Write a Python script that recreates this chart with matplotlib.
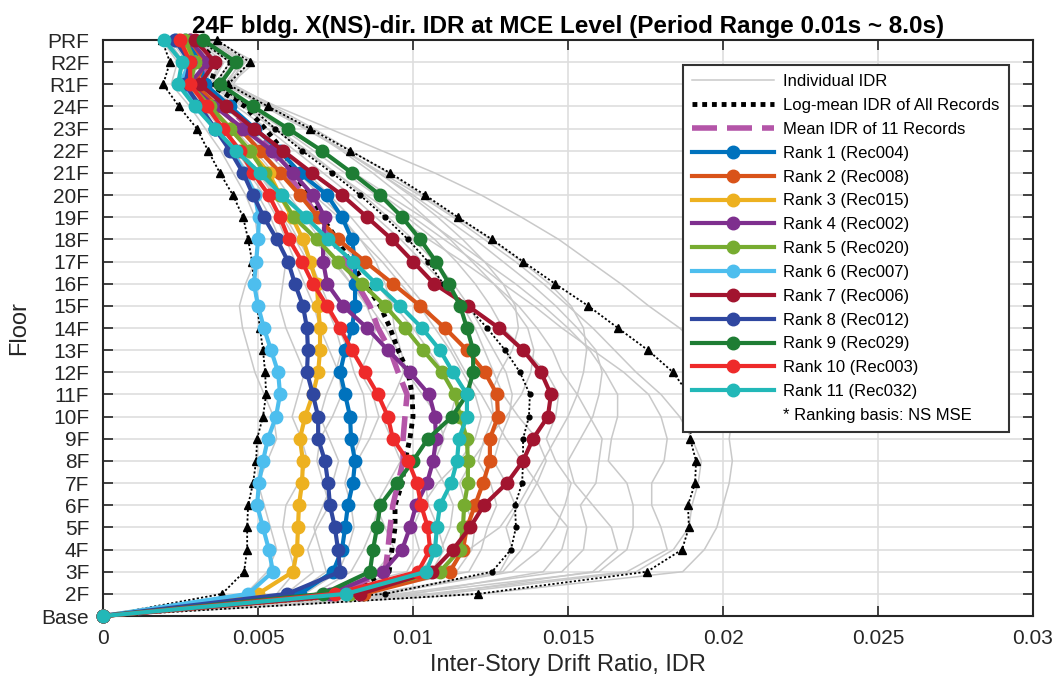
import numpy as np
import matplotlib
matplotlib.use('Agg')
import matplotlib.pyplot as plt
from matplotlib.lines import Line2D

plt.rcParams['font.family'] = ['Liberation Sans', 'DejaVu Sans']

floors = ['Base', '2F', '3F', '4F', '5F', '6F', '7F', '8F', '9F', '10F', '11F', '12F',
          '13F', '14F', '15F', '16F', '17F', '18F', '19F', '20F', '21F', '22F', '23F',
          '24F', 'R1F', 'R2F', 'PRF']
xticks = [0, 0.005, 0.01, 0.015, 0.02, 0.025, 0.03]
xticklabels = ['0', '0.005', '0.01', '0.015', '0.02', '0.025', '0.03']

# IDR values, in per-mille (x 1e-3), Base -> PRF
rank01_rec004 = [0, 6.35, 7.42, 7.71, 7.81, 7.90, 8.06, 8.13, 8.00, 7.97, 7.81, 7.65, 7.81, 8.03,
                 8.13, 8.13, 8.13, 8.03, 7.71, 7.23, 6.35, 5.71, 4.90, 4.10, 3.29, 3.13, 2.65]
rank02_rec008 = [0, 8.42, 11.19, 11.61, 11.74, 12.00, 12.26, 12.48, 12.48, 12.74, 12.71, 12.32, 11.74, 11.03,
                 10.23, 9.35, 8.45, 7.58, 6.94, 6.35, 5.71, 5.06, 4.42, 3.71, 2.97, 3.29, 2.81]
rank03_rec015 = [0, 5.00, 6.13, 6.26, 6.29, 6.32, 6.42, 6.45, 6.35, 6.52, 6.77, 6.94, 7.00, 7.00,
                 6.94, 6.90, 6.68, 6.45, 6.10, 5.71, 5.35, 4.74, 4.10, 3.45, 2.74, 2.97, 2.42]
rank04_rec002 = [0, 7.32, 9.03, 9.65, 9.90, 10.10, 10.45, 10.65, 10.74, 10.71, 10.52, 9.90, 9.19, 8.52,
                 7.74, 7.23, 7.10, 7.10, 7.16, 6.77, 6.13, 5.45, 4.52, 3.61, 2.77, 3.39, 2.81]
rank05_rec020 = [0, 7.97, 10.87, 11.52, 11.61, 11.65, 11.77, 11.77, 11.74, 11.52, 11.35, 10.94, 10.32, 9.74,
                 9.10, 8.35, 7.58, 6.90, 6.16, 5.71, 5.23, 4.74, 4.10, 3.45, 2.81, 2.97, 2.65]
rank06_rec007 = [0, 4.68, 5.48, 5.35, 5.16, 4.97, 5.03, 5.16, 5.32, 5.58, 5.71, 5.65, 5.42, 5.19,
                 5.00, 4.87, 4.94, 5.00, 5.03, 4.90, 4.58, 4.16, 3.61, 3.03, 2.48, 2.81, 2.32]
rank07_rec006 = [0, 8.29, 10.61, 11.29, 11.84, 12.29, 13.03, 13.55, 13.87, 14.35, 14.45, 14.13, 13.55, 12.77,
                 11.77, 10.68, 10.00, 9.32, 8.52, 7.71, 6.74, 5.81, 4.87, 3.97, 3.13, 3.61, 2.97]
rank08_rec012 = [0, 5.94, 7.65, 7.58, 7.48, 7.32, 7.26, 7.16, 6.94, 6.94, 6.77, 6.58, 6.61, 6.58,
                 6.45, 6.19, 5.97, 5.61, 5.19, 4.84, 4.52, 4.10, 3.61, 3.13, 2.65, 2.81, 2.32]
rank09_rec029 = [0, 7.10, 8.61, 8.71, 8.84, 8.94, 9.48, 10.00, 10.48, 11.26, 11.74, 11.94, 11.94, 11.74,
                 11.52, 11.16, 10.74, 10.23, 9.65, 8.94, 8.03, 7.06, 5.97, 4.84, 3.77, 4.29, 3.23]
rank10_rec003 = [0, 7.48, 10.16, 10.55, 10.48, 10.26, 10.13, 9.84, 9.35, 9.19, 8.87, 8.45, 8.03, 7.65,
                 7.23, 6.77, 6.42, 6.00, 5.71, 5.35, 4.84, 4.42, 3.87, 3.35, 2.81, 2.81, 2.48]
rank11_rec032 = [0, 7.84, 10.42, 10.71, 10.77, 10.87, 11.23, 11.42, 11.48, 11.74, 11.74, 11.29, 10.87, 10.29,
                 9.58, 8.81, 8.06, 7.26, 6.55, 5.77, 5.06, 4.29, 3.61, 2.97, 2.42, 2.55, 1.97]

mean_11 = [0, 7.48, 9.10, 9.19, 9.26, 9.35, 9.52, 9.68, 9.68, 9.74, 9.81, 9.52, 9.26, 8.87,
           8.61, 8.19, 7.81, 7.39, 6.94, 6.45, 5.94, 5.45, 4.74, 4.03, 3.23, 3.29, 2.74]
logmean_all = [0, 7.65, 9.23, 9.32, 9.42, 9.42, 9.65, 9.74, 9.90, 10.00, 9.97, 9.84, 9.52, 9.26,
               8.94, 8.45, 7.97, 7.55, 7.06, 6.58, 6.19, 5.81, 5.23, 4.58, 3.45, 3.71, 2.97]
mid_dotted = [0, 9.10, 12.55, 13.16, 13.32, 13.29, 13.52, 13.55, 13.55, 13.74, 13.77, 13.45, 12.97, 12.39,
              11.74, 10.97, 10.48, 9.84, 9.10, 8.29, 7.39, 6.42, 5.55, 4.74, 3.61, 4.10, 3.13]
low_tri = [0, 3.84, 4.55, 4.65, 4.65, 4.68, 4.84, 4.94, 4.97, 5.16, 5.26, 5.23, 5.16, 5.06,
           4.97, 4.87, 4.81, 4.68, 4.52, 4.19, 3.77, 3.39, 3.03, 2.45, 1.94, 2.16, 1.90]
high_tri = [0, 12.10, 17.55, 18.68, 18.90, 18.87, 19.10, 19.13, 18.94, 19.00, 18.90, 18.39, 17.58, 16.61,
            15.65, 14.58, 13.55, 12.55, 11.45, 10.39, 9.26, 7.97, 6.68, 5.32, 4.03, 4.74, 3.68]

grey01 = [0, 12.2, 18.7, 19.4, 19.8, 20.0, 20.2, 20.3, 20.2, 20.3, 20.1, 19.9, 19.4, 18.6,
          17.6, 16.7, 15.7, 14.7, 13.5, 12.2, 10.7, 9.0, 7.3, 5.6, 4.1, 4.9, 3.6]
grey02 = [0, 11.0, 17.2, 18.4, 18.9, 19.0, 19.2, 19.3, 19.0, 18.6, 18.0, 17.2, 16.5, 15.8,
          15.0, 14.2, 13.3, 12.3, 11.3, 10.2, 9.0, 7.8, 6.5, 5.2, 3.9, 4.5, 3.4]
grey03 = [0, 10.5, 16.9, 18.2, 18.0, 17.7, 17.7, 18.1, 18.2, 18.0, 17.6, 16.8, 15.8, 14.8,
          13.9, 12.9, 12.0, 11.0, 10.0, 9.0, 8.0, 7.0, 5.9, 4.8, 3.7, 4.2, 3.1]
grey04 = [0, 9.8, 16.0, 16.9, 17.1, 17.1, 16.9, 16.3, 16.4, 16.6, 16.6, 16.2, 15.7, 15.0,
          14.2, 13.3, 12.3, 11.3, 10.3, 9.2, 8.1, 7.0, 5.9, 4.8, 3.6, 4.1, 3.0]
grey05 = [0, 9.5, 14.8, 15.5, 15.6, 15.4, 15.9, 16.0, 16.1, 15.7, 15.3, 14.8, 14.5, 14.0,
          13.4, 12.6, 11.6, 10.5, 9.5, 8.5, 7.5, 6.6, 5.6, 4.6, 3.5, 3.9, 3.0]
grey06 = [0, 9.0, 13.2, 14.1, 14.6, 14.9, 15.1, 14.6, 14.3, 14.6, 14.7, 14.3, 13.6, 12.9,
          12.5, 12.0, 11.4, 10.7, 9.8, 8.8, 7.8, 6.8, 5.8, 4.7, 3.5, 3.8, 2.9]
grey07 = [0, 8.7, 12.9, 13.5, 13.8, 13.6, 14.0, 14.3, 14.0, 13.4, 12.9, 12.6, 12.3, 12.0,
          11.6, 11.0, 10.3, 9.6, 8.8, 8.0, 7.1, 6.2, 5.3, 4.3, 3.3, 3.6, 2.8]
grey08 = [0, 8.0, 11.8, 12.2, 12.4, 12.7, 12.5, 12.1, 12.3, 12.6, 12.2, 11.7, 11.3, 10.9,
          10.4, 9.8, 9.2, 8.6, 8.0, 7.3, 6.6, 5.8, 4.9, 4.0, 3.1, 3.4, 2.7]
grey09 = [0, 7.6, 10.2, 10.9, 11.2, 11.3, 11.0, 10.6, 10.9, 11.2, 11.4, 11.0, 10.5, 10.0,
          9.4, 8.8, 8.2, 7.6, 7.0, 6.4, 5.8, 5.1, 4.4, 3.7, 2.9, 3.2, 2.5]
grey10 = [0, 7.2, 8.8, 9.4, 9.1, 8.8, 9.2, 9.6, 9.3, 9.0, 9.4, 9.7, 9.5, 9.1,
          8.6, 8.0, 7.5, 7.0, 6.5, 6.0, 5.5, 4.9, 4.2, 3.5, 2.8, 3.0, 2.4]
grey11 = [0, 6.8, 8.0, 8.4, 8.7, 8.9, 8.5, 8.2, 8.6, 8.9, 8.7, 8.3, 8.6, 8.8,
          8.5, 8.0, 7.4, 6.8, 6.2, 5.6, 5.0, 4.4, 3.8, 3.2, 2.6, 2.8, 2.3]
grey12 = [0, 6.2, 7.2, 7.0, 6.8, 7.1, 7.4, 7.6, 7.3, 7.0, 7.2, 7.5, 7.7, 7.5,
          7.2, 6.9, 6.6, 6.2, 5.8, 5.3, 4.8, 4.3, 3.7, 3.1, 2.5, 2.7, 2.2]
grey13 = [0, 5.6, 6.2, 6.0, 5.8, 5.9, 6.3, 6.6, 6.4, 6.1, 6.3, 6.5, 6.2, 5.9,
          5.7, 5.8, 5.9, 5.7, 5.4, 5.0, 4.6, 4.1, 3.6, 3.0, 2.4, 2.6, 2.1]
grey14 = [0, 4.6, 5.3, 5.6, 5.4, 5.2, 5.0, 5.3, 5.6, 5.5, 5.2, 4.9, 4.7, 4.5,
          4.4, 4.6, 4.9, 5.0, 4.9, 4.6, 4.2, 3.8, 3.3, 2.8, 2.2, 2.4, 1.9]
grey15 = [0, 9.2, 12.8, 13.2, 13.0, 13.4, 13.8, 14.2, 14.6, 15.0, 15.3, 15.5, 15.6, 15.5,
          15.1, 14.4, 13.5, 12.5, 11.4, 10.3, 9.2, 8.0, 6.8, 5.5, 4.2, 4.7, 3.5]
grey16 = [0, 8.4, 11.4, 11.9, 12.0, 11.7, 11.5, 11.9, 12.4, 13.0, 13.5, 13.8, 13.9, 13.7,
          13.2, 12.6, 11.9, 11.2, 10.4, 9.6, 8.7, 7.7, 6.6, 5.4, 4.1, 4.5, 3.4]
grey17 = [0, 7.0, 9.8, 10.2, 10.0, 10.3, 10.8, 11.5, 12.0, 12.2, 12.0, 11.6, 11.2, 10.7,
          10.2, 9.6, 9.0, 8.3, 7.6, 6.8, 6.0, 5.2, 4.4, 3.6, 2.8, 3.1, 2.5]
grey18 = [0, 6.5, 7.6, 7.9, 8.1, 8.0, 7.8, 8.0, 8.3, 8.5, 8.4, 8.1, 7.9, 7.6,
          7.3, 7.0, 6.7, 6.3, 5.9, 5.5, 5.0, 4.5, 3.9, 3.3, 2.6, 2.9, 2.3]
grey19 = [0, 7.9, 10.6, 11.0, 10.8, 10.5, 10.4, 10.7, 11.0, 10.8, 10.3, 9.8, 9.6, 9.4,
          9.3, 9.1, 8.8, 8.3, 7.7, 7.0, 6.3, 5.5, 4.7, 3.9, 3.0, 3.3, 2.6]
grey20 = [0, 8.2, 11.0, 11.8, 12.8, 13.3, 13.0, 12.6, 12.8, 13.1, 13.2, 13.0, 12.6, 12.2,
          11.8, 11.3, 10.7, 10.0, 9.2, 8.4, 7.5, 6.5, 5.5, 4.5, 3.4, 3.8, 2.8]
grey21 = [0, 5.9, 6.8, 6.6, 6.9, 7.3, 7.1, 6.9, 7.0, 7.4, 7.7, 7.6, 7.3, 7.0,
          6.8, 6.5, 6.2, 5.9, 5.6, 5.2, 4.7, 4.2, 3.6, 3.0, 2.4, 2.6, 2.1]
grey22 = [0, 10.0, 14.2, 14.8, 15.0, 14.4, 14.0, 13.5, 13.0, 12.6, 12.5, 12.8, 13.2, 13.4,
          13.3, 12.9, 12.3, 11.6, 10.8, 9.9, 8.9, 7.8, 6.6, 5.3, 4.0, 4.4, 3.3]
grey23 = [0, 10.8, 15.8, 16.6, 16.4, 15.8, 15.2, 15.0, 15.4, 15.8, 16.0, 16.1, 15.9, 15.3,
          14.6, 13.8, 12.9, 12.0, 11.0, 10.0, 8.9, 7.8, 6.6, 5.3, 4.0, 4.6, 3.4]

greys = [grey01, grey02, grey03, grey04, grey05, grey06, grey07, grey08, grey09, grey10, grey11,
         grey12, grey13, grey14, grey15, grey16, grey17, grey18, grey19, grey20, grey21, grey22, grey23]
ranks = [rank01_rec004, rank02_rec008, rank03_rec015, rank04_rec002, rank05_rec020, rank06_rec007,
         rank07_rec006, rank08_rec012, rank09_rec029, rank10_rec003, rank11_rec032]
rank_labels = ['Rank 1 (Rec004)', 'Rank 2 (Rec008)', 'Rank 3 (Rec015)', 'Rank 4 (Rec002)',
               'Rank 5 (Rec020)', 'Rank 6 (Rec007)', 'Rank 7 (Rec006)', 'Rank 8 (Rec012)',
               'Rank 9 (Rec029)', 'Rank 10 (Rec003)', 'Rank 11 (Rec032)']
rank_colors = ['#0072BD', '#D95319', '#EDB120', '#7E2F8E', '#77AC30', '#4DBEEE',
               '#A2142F', '#2F47A0', '#1E7D34', '#EE2A2A', '#22B8B8']

pm = 1e-3
lev = np.arange(len(floors))

fig = plt.figure(figsize=(10.61, 6.84), dpi=100)
ax = fig.add_axes([0.0971, 0.0994, 0.8765, 0.8421])

handles = []
for i, g in enumerate(greys):
    h, = ax.plot(np.array(g) * pm, lev, color='#c9c9c9', lw=1.1, zorder=2)
    if i == 0:
        h.set_label('Individual IDR')
        handles.append(h)

ax.plot(np.array(high_tri) * pm, lev, color='k', lw=1.3, ls=(0, (1.2, 1.2)), marker='^', ms=6,
        zorder=3, clip_on=False)
ax.plot(np.array(low_tri) * pm, lev, color='k', lw=1.3, ls=(0, (1.2, 1.2)), marker='^', ms=6,
        zorder=3, clip_on=False)
ax.plot(np.array(mid_dotted) * pm, lev, color='k', lw=1.3, ls=(0, (1.2, 1.2)), marker='o', ms=3.5,
        zorder=3, clip_on=False)

h_log, = ax.plot(np.array(logmean_all) * pm, lev, color='k', lw=3.5, ls=(0, (1, 1)),
                 dash_capstyle='butt', zorder=4, label='Log-mean IDR of All Records')
h_mean, = ax.plot(np.array(mean_11) * pm, lev, color='#B455A8', lw=4, ls=(0, (4.5, 1.8)),
                  zorder=4, label='Mean IDR of 11 Records')
handles += [h_log, h_mean]

for k, (vals, c, lab) in enumerate(zip(ranks, rank_colors, rank_labels)):
    h, = ax.plot(np.array(vals) * pm, lev, color=c, lw=3, marker='o', ms=9,
                 zorder=5 + k * 0.1, label=lab, clip_on=False)
    handles.append(h)

handles.append(Line2D([], [], color='none', label='* Ranking basis: NS MSE'))

ax.set_xlim(0, 0.03)
ax.set_ylim(0, len(floors) - 1)
ax.set_xticks(xticks)
ax.set_xticklabels(xticklabels)
ax.set_yticks(lev)
ax.set_yticklabels(floors)
ax.tick_params(direction='in', length=7, width=1.2, labelsize=15, top=True, right=True,
               color='#262626', labelcolor='#262626')
ax.tick_params(axis='y', pad=10)
ax.tick_params(axis='x', pad=9)
ax.grid(True, color='#dedede', lw=1.2, zorder=0)
ax.set_axisbelow(True)
for s in ax.spines.values():
    s.set_linewidth(1.5)
    s.set_color('#262626')

ax.set_xlabel('Inter-Story Drift Ratio, IDR', fontsize=17, color='#262626', labelpad=5)
ax.set_ylabel('Floor', fontsize=17, color='#262626', labelpad=8)
ax.set_title('24F bldg. X(NS)-dir. IDR at MCE Level (Period Range 0.01s ~ 8.0s)',
             fontsize=17.5, fontweight='bold', pad=5)

leg = ax.legend(handles=handles, loc='upper left', bbox_to_anchor=(0.6237, 0.9566),
                borderaxespad=0, fontsize=12, handlelength=4.9, handletextpad=0.55,
                labelspacing=0.53, borderpad=0.55, fancybox=False, framealpha=1,
                edgecolor='#333333')
leg.get_frame().set_linewidth(1.5)
leg.set_zorder(10)

fig.savefig('out.png', dpi=100)
